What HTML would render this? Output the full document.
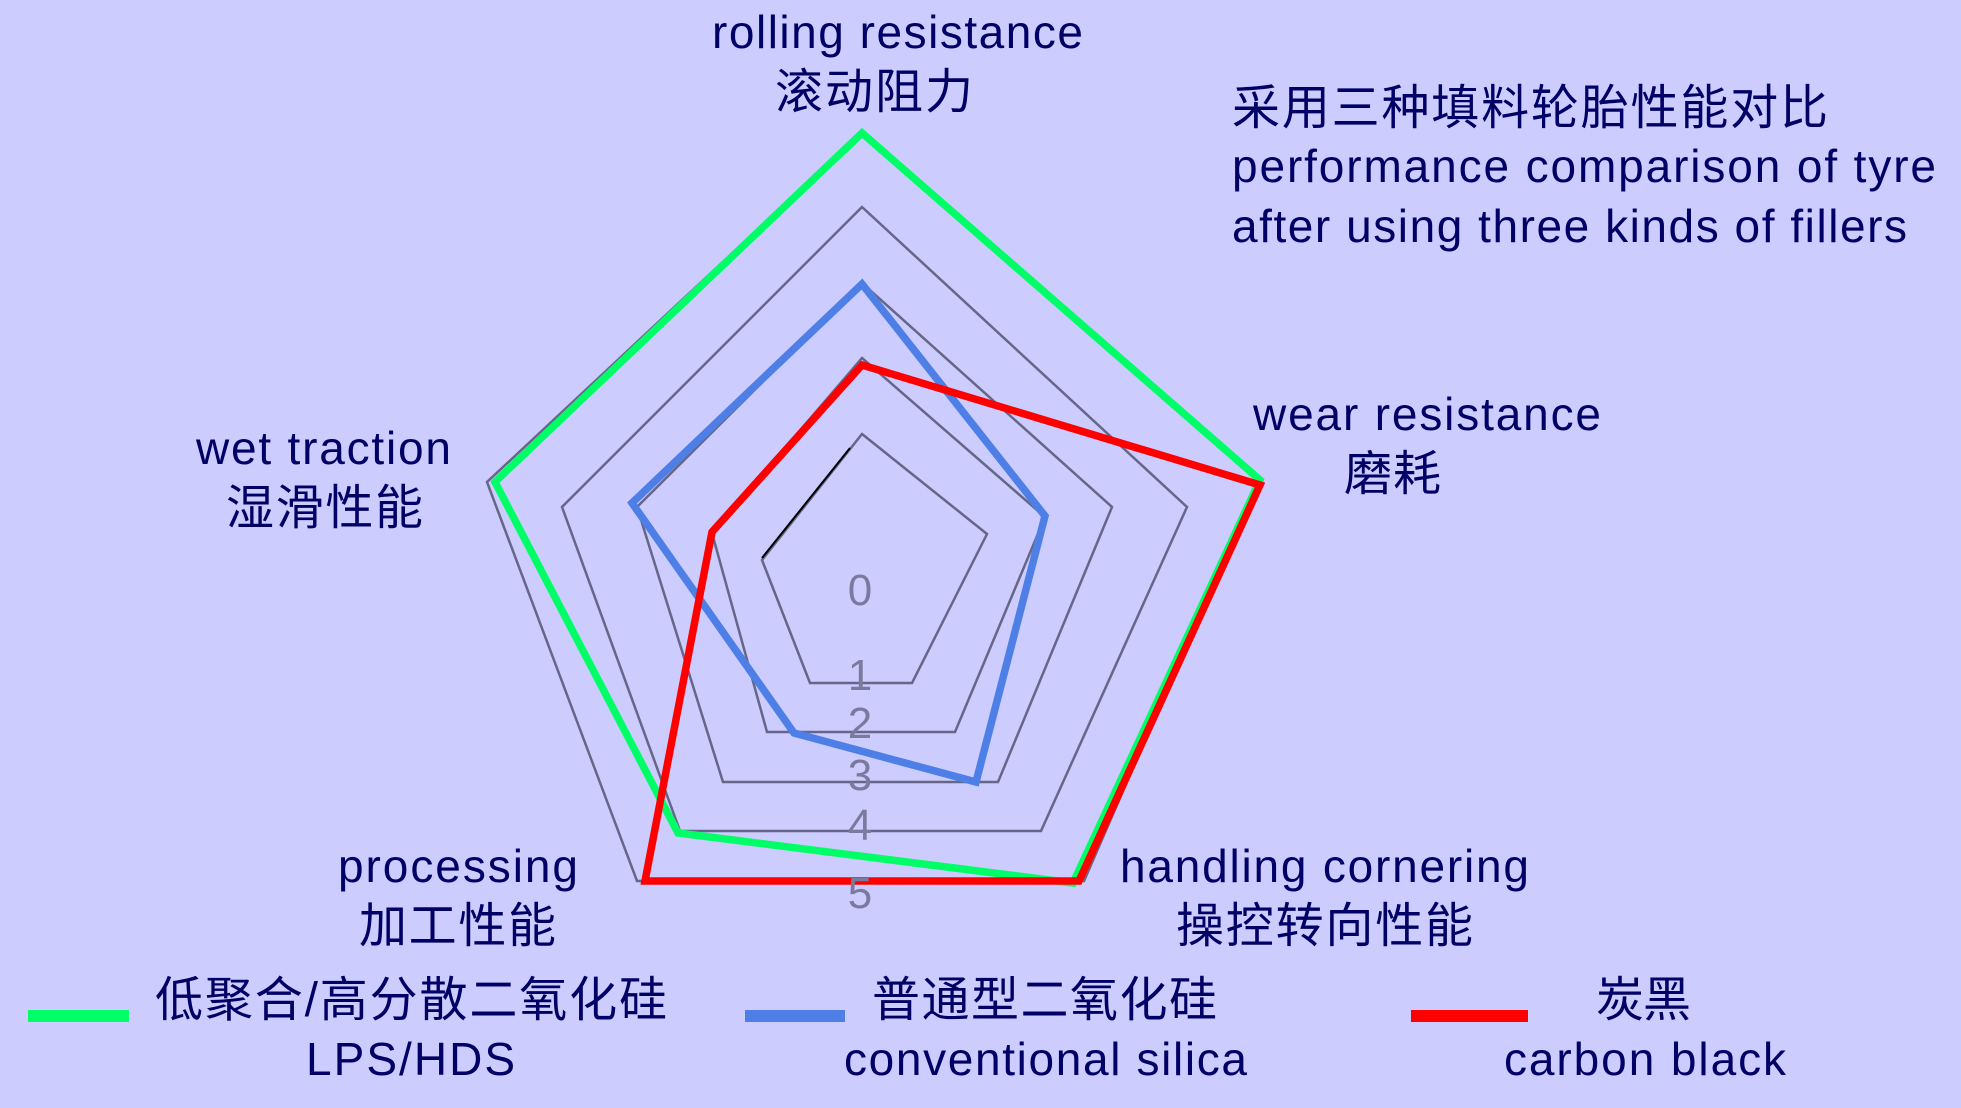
<!DOCTYPE html>
<html><head><meta charset="utf-8"><style>
html,body{margin:0;padding:0;background:#ccccff;}
svg{display:block;}
.e{font-family:"Liberation Sans",sans-serif;font-size:46px;fill:#000066;}
.c{font-family:"Liberation Sans","Noto Sans CJK SC",sans-serif;font-size:48px;fill:#000066;}
.n{font-family:"Liberation Sans",sans-serif;font-size:44px;fill:#7a7a9e;text-anchor:middle;}
</style></head><body>
<svg width="1961" height="1108" viewBox="0 0 1961 1108" xmlns="http://www.w3.org/2000/svg">
<rect width="1961" height="1108" fill="#ccccff"/>
<g fill="none" stroke="#666688" stroke-width="2.5">
<polygon points="862,434 987,534 912,683 810,683 762,560"/>
<polygon points="862,358 1045,517 955,732 767,732 712,533"/>
<polygon points="862,283 1112,507 998,782 723,782 637,507"/>
<polygon points="862,207 1187,507 1041,831 680,831 562,507"/>
<polygon points="862,132 1258,480 1084,881 637,881 487,482"/>
</g>
<polyline points="762,558 850,448" fill="none" stroke="#000" stroke-width="2"/>
<g fill="none" stroke-width="7.5">
<polygon points="862,133 1260,480 1073,883 678,833 495,482" stroke="#00ff66"/>
<polygon points="862,284 1045,516 976,782 794,733 632,503" stroke="#4d7fe6"/>
<polygon points="862,365 1260,485 1079,881 645,881 712,532" stroke="#ff0000"/>
</g>
<text class="n" x="860" y="605">0</text>
<text class="n" x="860" y="690">1</text>
<text class="n" x="860" y="738">2</text>
<text class="n" x="860" y="790">3</text>
<text class="n" x="860" y="840">4</text>
<text class="n" x="860" y="908">5</text>
<text class="e" x="712" y="48" textLength="371">rolling resistance</text>
<text class="c" x="775" y="108" textLength="198">滚动阻力</text>
<text class="c" x="1232" y="124" textLength="596">采用三种填料轮胎性能对比</text>
<text class="e" x="1232" y="182" textLength="704">performance comparison of tyre</text>
<text class="e" x="1232" y="242" textLength="675">after using three kinds of fillers</text>
<text class="e" x="1253" y="430" textLength="348">wear resistance</text>
<text class="c" x="1344" y="490" textLength="97">磨耗</text>
<text class="e" x="196" y="464" textLength="255">wet traction</text>
<text class="c" x="226" y="524" textLength="197">湿滑性能</text>
<text class="e" x="338" y="882" textLength="240">processing</text>
<text class="c" x="359" y="942" textLength="197">加工性能</text>
<text class="e" x="1120" y="882" textLength="409">handling cornering</text>
<text class="c" x="1176" y="942" textLength="297">操控转向性能</text>
<rect x="28" y="1010" width="101" height="12" fill="#00ff66"/>
<rect x="745" y="1010" width="100" height="12" fill="#4d7fe6"/>
<rect x="1411" y="1010" width="117" height="12" fill="#ff0000"/>
<text class="c" x="155" y="1016" textLength="512">低聚合/高分散二氧化硅</text>
<text class="e" x="306" y="1075" textLength="209">LPS/HDS</text>
<text class="c" x="872" y="1016" textLength="345">普通型二氧化硅</text>
<text class="e" x="844" y="1075" textLength="403">conventional silica</text>
<text class="c" x="1596" y="1016" textLength="95">炭黑</text>
<text class="e" x="1504" y="1075" textLength="282">carbon black</text>
</svg>
</body></html>
